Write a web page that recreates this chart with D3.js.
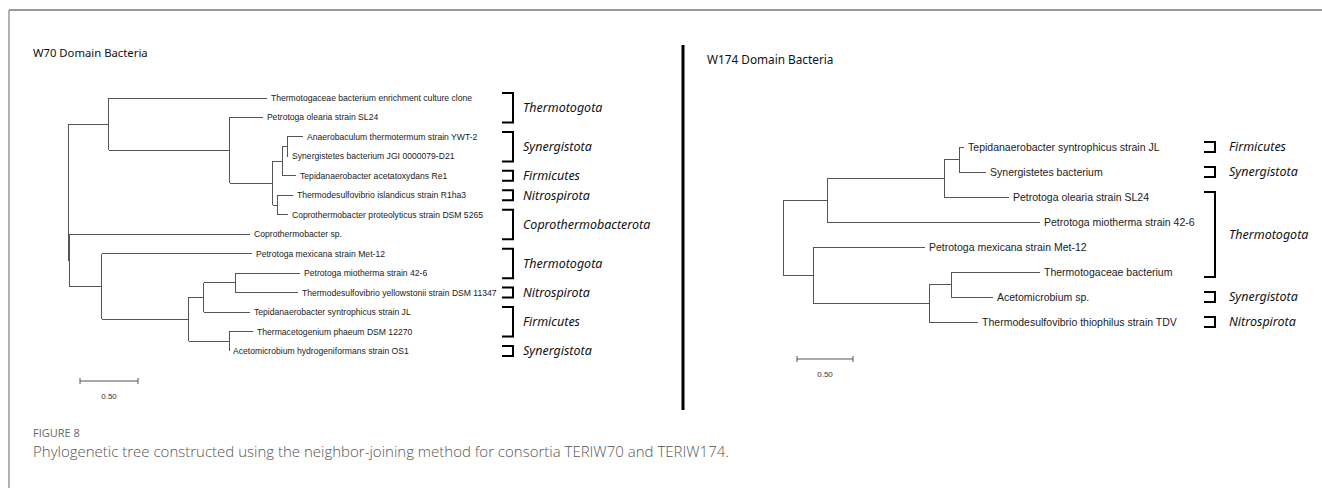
<!DOCTYPE html>
<html>
<head>
<meta charset="utf-8">
<script src="https://cdn.jsdelivr.net/npm/d3@7"></script>
<style>
  html, body { margin: 0; padding: 0; background: #fff; }
  svg { display: block; }
</style>
</head>
<body>
<svg id="chart" width="1322" height="488"></svg>
<script>
// ---------- DATA ----------
// [id, parentId, branch length]
const W70_NODES = [
  ["root", null, 0],
  ["n1", "root", 0.353],
  ["Thermotogaceae bacterium enrichment culture clone", "n1", 1.362],
  ["n2", "n1", 1.043],
  ["Petrotoga olearia strain SL24", "n2", 0.284],
  ["n3", "n2", 0.371],
  ["n4", "n3", 0.078],
  ["n5", "n4", 0.043],
  ["Anaerobaculum thermotermum strain YWT-2", "n5", 0.138],
  ["Synergistetes bacterium JGI 0000079-D21", "n5", 0.009],
  ["Tepidanaerobacter acetatoxydans Re1", "n4", 0.121],
  ["n6", "n3", 0.043],
  ["Thermodesulfovibrio islandicus strain R1ha3", "n6", 0.129],
  ["Coprothermobacter proteolyticus strain DSM 5265", "n6", 0.086],
  ["n7", "root", 0.017],
  ["Coprothermobacter sp.", "n7", 1.552],
  ["n8", "n7", 0.276],
  ["Petrotoga mexicana strain Met-12", "n8", 1.293],
  ["n9", "n8", 0.75],
  ["n10", "n9", 0.129],
  ["n11", "n10", 0.276],
  ["Petrotoga miotherma strain 42-6", "n11", 0.552],
  ["Thermodesulfovibrio yellowstonii strain DSM 11347", "n11", 0.534],
  ["Tepidanaerobacter syntrophicus strain JL", "n10", 0.397],
  ["n12", "n9", 0.345],
  ["Thermacetogenium phaeum DSM 12270", "n12", 0.207],
  ["Acetomicrobium hydrogeniformans strain OS1", "n12", 0.0]
];

const W174_NODES = [
  ["root", null, 0],
  ["m1", "root", 0.393],
  ["m2", "m1", 1.045],
  ["m3", "m2", 0.134],
  ["Tepidanaerobacter syntrophicus strain JL", "m3", 0.045],
  ["Synergistetes bacterium", "m3", 0.241],
  ["Petrotoga olearia strain SL24", "m2", 0.580],
  ["Petrotoga miotherma strain 42-6", "m1", 1.902],
  ["m4", "root", 0.268],
  ["Petrotoga mexicana strain Met-12", "m4", 1.0],
  ["m5", "m4", 1.036],
  ["m6", "m5", 0.196],
  ["Thermotogaceae bacterium", "m6", 0.795],
  ["Acetomicrobium sp.", "m6", 0.375],
  ["Thermodesulfovibrio thiophilus strain TDV", "m5", 0.438]
];

// [phylum, first leaf index, last leaf index]
const W70_PHYLA = [
  ["Thermotogota", 0, 1],
  ["Synergistota", 2, 3],
  ["Firmicutes", 4, 4],
  ["Nitrospirota", 5, 5],
  ["Coprothermobacterota", 6, 7],
  ["Thermotogota", 8, 9],
  ["Nitrospirota", 10, 10],
  ["Firmicutes", 11, 12],
  ["Synergistota", 13, 13]
];
const W174_PHYLA = [
  ["Firmicutes", 0, 0],
  ["Synergistota", 1, 1],
  ["Thermotogota", 2, 5],
  ["Synergistota", 6, 6],
  ["Nitrospirota", 7, 7]
];

const TITLES = ["W70 Domain Bacteria", "W174 Domain Bacteria"];
const SCALE_BAR_VALUE = 0.50;
const SCALE_BAR_LABEL = "0.50";
const CAPTION_HEAD = "FIGURE 8";
const CAPTION_TEXT = "Phylogenetic tree constructed using the neighbor-joining method for consortia TERIW70 and TERIW174.";

// ---------- DRAW ----------
const svg = d3.select("#chart");

// frame
svg.append("line").attr("x1", 9).attr("x2", 1322).attr("y1", 10).attr("y2", 10)
  .attr("stroke", "#999").attr("stroke-width", 2);
svg.append("line").attr("x1", 9).attr("x2", 9).attr("y1", 10).attr("y2", 488)
  .attr("stroke", "#999").attr("stroke-width", 1.5);

// divider
svg.append("line").attr("x1", 683).attr("x2", 683).attr("y1", 45).attr("y2", 410)
  .attr("stroke", "#000").attr("stroke-width", 3);

function drawTree(cfg) {
  const g = svg.append("g");
  const root = d3.stratify()
    .id(d => d[0])
    .parentId(d => d[1])(cfg.nodes);
  root.eachBefore(n => {
    n.dist = n.parent ? n.parent.dist + n.data[2] : 0;
  });
  const leaves = root.leaves();
  const x = d3.scaleLinear().domain([0, 1]).range([cfg.rootX, cfg.rootX + cfg.unit]);
  const y = d3.scaleLinear().domain([0, leaves.length - 1]).range([cfg.y0, cfg.y1]);
  leaves.forEach((l, i) => { l.yy = y(i); l.idx = i; });
  root.eachAfter(n => {
    if (n.children) {
      n.yy = (n.children[0].yy + n.children[n.children.length - 1].yy) / 2;
    }
  });

  const lineColor = "#555";
  // vertical connectors
  root.descendants().filter(n => n.children).forEach(n => {
    g.append("line")
      .attr("x1", x(n.dist)).attr("x2", x(n.dist))
      .attr("y1", n.children[0].yy).attr("y2", n.children[n.children.length - 1].yy)
      .attr("stroke", lineColor).attr("stroke-width", 1).attr("shape-rendering", "crispEdges");
  });
  // horizontal branches
  root.descendants().filter(n => n.parent).forEach(n => {
    g.append("line")
      .attr("x1", x(n.parent.dist)).attr("x2", x(n.dist))
      .attr("y1", n.yy).attr("y2", n.yy)
      .attr("stroke", lineColor).attr("stroke-width", 1).attr("shape-rendering", "crispEdges");
  });
  // leaf labels
  g.selectAll("text.leaf").data(leaves).join("text")
    .attr("class", "leaf")
    .attr("x", d => x(d.dist) + 4)
    .attr("y", d => d.yy)
    .attr("dy", "0.35em")
    .attr("font-family", "'Liberation Sans', Arial, sans-serif")
    .attr("font-size", cfg.leafFont)
    .attr("fill", "#222")
    .text(d => d.id);

  // title
  g.append("text").attr("x", cfg.titleX).attr("y", cfg.titleY)
    .attr("font-family", "'Noto Sans', 'Open Sans', sans-serif")
    .attr("font-size", cfg.titleFont).attr("fill", "#111")
    .text(cfg.title);

  // phylum brackets
  cfg.phyla.forEach(p => {
    const top = y(p[1]) - cfg.pad, bot = y(p[2]) + cfg.pad;
    g.append("path")
      .attr("d", `M${cfg.bx0},${top}H${cfg.bx1}V${bot}H${cfg.bx0}`)
      .attr("fill", "none").attr("stroke", "#000").attr("stroke-width", 2);
    g.append("text")
      .attr("x", cfg.labelX).attr("y", (top + bot) / 2)
      .attr("dy", "0.35em")
      .attr("font-family", "'Noto Sans', 'Open Sans', sans-serif")
      .attr("font-style", "italic")
      .attr("font-size", cfg.phylumFont).attr("fill", "#111")
      .text(p[0]);
  });

  // scale bar
  const sx0 = cfg.scaleX, sx1 = cfg.scaleX + (x(SCALE_BAR_VALUE) - x(0));
  g.append("line").attr("x1", sx0).attr("x2", sx1).attr("y1", cfg.scaleY).attr("y2", cfg.scaleY)
    .attr("stroke", lineColor).attr("stroke-width", 1);
  [sx0, sx1].forEach(v => {
    g.append("line").attr("x1", v).attr("x2", v).attr("y1", cfg.scaleY - 3).attr("y2", cfg.scaleY + 3)
      .attr("stroke", lineColor).attr("stroke-width", 1);
  });
  g.append("text").attr("x", (sx0 + sx1) / 2).attr("y", cfg.scaleY + 15)
    .attr("text-anchor", "middle").attr("dy", "0.35em")
    .attr("font-family", "'Liberation Sans', Arial, sans-serif")
    .attr("font-size", 8).attr("fill", "#333")
    .text(SCALE_BAR_LABEL);
}

drawTree({
  nodes: W70_NODES, phyla: W70_PHYLA, title: TITLES[0],
  rootX: 68, unit: 116, y0: 98, y1: 351, leafFont: 8.6,
  titleX: 33, titleY: 57, titleFont: 11.3,
  bx0: 502, bx1: 513, labelX: 523, pad: 5, phylumFont: 12.5,
  scaleX: 80, scaleY: 381
});
drawTree({
  nodes: W174_NODES, phyla: W174_PHYLA, title: TITLES[1],
  rootX: 783, unit: 112, y0: 147, y1: 322, leafFont: 10.5,
  titleX: 707, titleY: 64, titleFont: 11.8,
  bx0: 1204, bx1: 1215, labelX: 1229, pad: 5, phylumFont: 12.5,
  scaleX: 797, scaleY: 359
});

// caption
svg.append("text").attr("x", 33).attr("y", 437)
  .attr("font-family", "'Open Sans', 'Noto Sans', sans-serif")
  .attr("font-size", 11).attr("fill", "#666")
  .text(CAPTION_HEAD);
svg.append("text").attr("x", 33).attr("y", 457)
  .attr("font-family", "'Open Sans', 'Noto Sans', sans-serif")
  .attr("font-size", 15).attr("font-weight", 300).attr("fill", "#555")
  .text(CAPTION_TEXT);
</script>
</body>
</html>
